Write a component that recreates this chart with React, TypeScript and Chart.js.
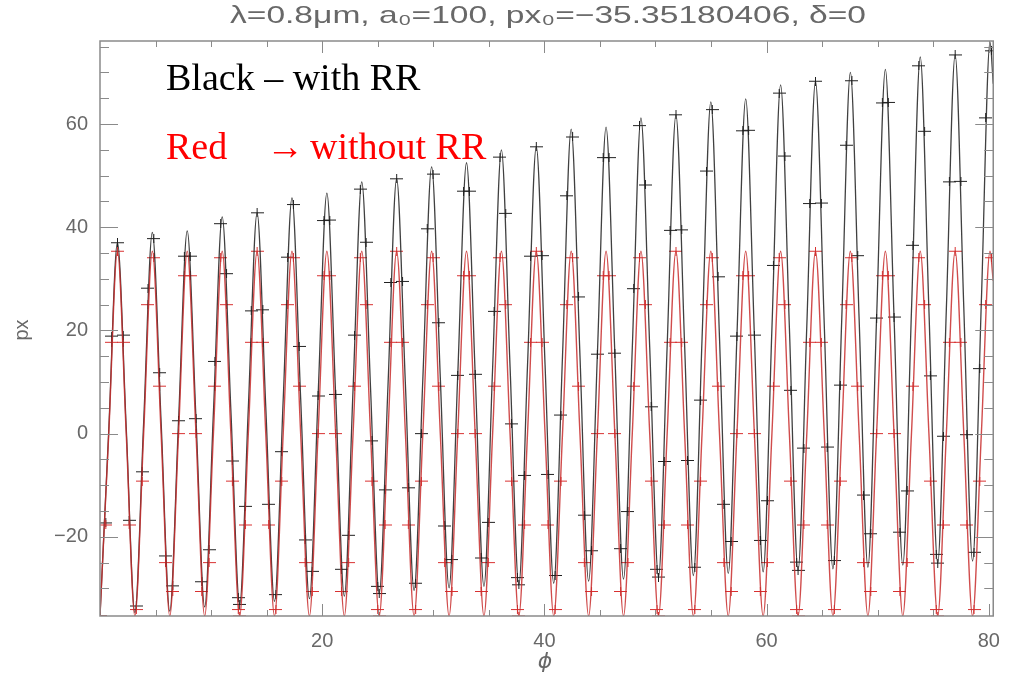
import React, { useEffect, useRef } from 'react';
import { Chart, registerables } from 'chart.js';

Chart.register(...registerables);

// Phase samples (quarter period steps)
const phi = [
  0, 0.79, 1.57, 2.36, 3.14, 3.93, 4.71, 5.5, 6.28, 7.07, 7.85, 8.64,
  9.42, 10.21, 11.0, 11.78, 12.57, 13.35, 14.14, 14.92, 15.71, 16.49, 17.28, 18.06,
  18.85, 19.63, 20.42, 21.21, 21.99, 22.78, 23.56, 24.35, 25.13, 25.92, 26.7, 27.49,
  28.27, 29.06, 29.85, 30.63, 31.42, 32.2, 32.99, 33.77, 34.56, 35.34, 36.13, 36.91,
  37.7, 38.48, 39.27, 40.06, 40.84, 41.63, 42.41, 43.2, 43.98, 44.77, 45.55, 46.34,
  47.12, 47.91, 48.69, 49.48, 50.27, 51.05, 51.84, 52.62, 53.41, 54.19, 54.98, 55.76,
  56.55, 57.33, 58.12, 58.9, 59.69, 60.48, 61.26, 62.05, 62.83, 63.62, 64.4, 65.19,
  65.97, 66.76, 67.54, 68.33, 69.12, 69.9, 70.69, 71.47, 72.26, 73.04, 73.83, 74.61,
  75.4, 76.18, 76.97, 77.75, 78.54, 79.33, 80.11, 80.4,
];

// Black curve: with radiation reaction
const pxWithRR = [
  -35.35, 0.8, 37.0, 1.2, -34.7, 2.2, 39.0, 2.3, -34.4, 2.5, 39.3, 2.9,
  -33.6, 4.2, 42.0, 4.5, -33.1, 4.9, 42.8, 5.2, -32.5, 6.6, 45.7, 6.9,
  -32.0, 7.3, 46.6, 7.6, -31.5, 8.7, 48.8, 8.9, -31.0, 9.2, 49.4, 9.5,
  -30.4, 10.7, 51.7, 10.9, -29.9, 11.3, 52.5, 11.5, -29.6, 12.7, 55.0, 12.9,
  -29.3, 13.2, 55.6, 13.3, -29.0, 15.0, 59.0, 15.2, -28.6, 15.4, 59.4, 15.6,
  -28.2, 16.5, 61.2, 16.7, -27.8, 17.0, 61.8, 17.2, -27.5, 18.4, 64.3, 18.6,
  -27.1, 18.9, 64.9, 19.1, -26.8, 20.4, 67.6, 20.6, -26.5, 20.9, 68.3, 21.1,
  -26.2, 21.9, 70.0, 22.1, -25.9, 22.4, 70.6, 22.6, -25.5, 23.8, 73.0, 24.0,
  -25.1, 24.2, 73.4, 24.4, -24.7, 25.6, 75.9, 67.8,
];

// Red curve: without radiation reaction
const pxWithoutRR = [
  -35.35, 0, 35.35, 0, -35.35, 0, 35.35, 0, -35.35, 0, 35.35, 0,
  -35.35, 0, 35.35, 0, -35.35, 0, 35.35, 0, -35.35, 0, 35.35, 0,
  -35.35, 0, 35.35, 0, -35.35, 0, 35.35, 0, -35.35, 0, 35.35, 0,
  -35.35, 0, 35.35, 0, -35.35, 0, 35.35, 0, -35.35, 0, 35.35, 0,
  -35.35, 0, 35.35, 0, -35.35, 0, 35.35, 0, -35.35, 0, 35.35, 0,
  -35.35, 0, 35.35, 0, -35.35, 0, 35.35, 0, -35.35, 0, 35.35, 0,
  -35.35, 0, 35.35, 0, -35.35, 0, 35.35, 0, -35.35, 0, 35.35, 0,
  -35.35, 0, 35.35, 0, -35.35, 0, 35.35, 0, -35.35, 0, 35.35, 0,
  -35.35, 0, 35.35, 0, -35.35, 0, 35.35, 29.6,
];

// "+" sample markers
const markPhi = [
  0, 0.52, 1.05, 1.57, 2.09, 2.62,
  3.27, 3.8, 4.32, 4.84, 5.37, 5.89,
  6.55, 7.07, 7.59, 8.12, 8.64, 9.16,
  9.82, 10.34, 10.86, 11.39, 11.91, 12.44,
  12.57, 13.09, 13.61, 14.14, 14.66, 15.18,
  15.84, 16.36, 16.89, 17.41, 17.93, 18.46,
  19.11, 19.63, 20.16, 20.68, 21.21, 21.73,
  22.38, 22.91, 23.43, 23.95, 24.48, 25.0,
  25.13, 25.66, 26.18, 26.7, 27.23, 27.75,
  28.41, 28.93, 29.45, 29.98, 30.5, 31.02,
  31.68, 32.2, 32.72, 33.25, 33.77, 34.3,
  34.95, 35.47, 36.0, 36.52, 37.04, 37.57,
  37.7, 38.22, 38.75, 39.27, 39.79, 40.32,
  40.97, 41.49, 42.02, 42.54, 43.07, 43.59,
  44.24, 44.77, 45.29, 45.82, 46.34, 46.86,
  47.52, 48.04, 48.56, 49.09, 49.61, 50.13,
  50.27, 50.79, 51.31, 51.84, 52.36, 52.88,
  53.54, 54.06, 54.59, 55.11, 55.63, 56.16,
  56.81, 57.33, 57.86, 58.38, 58.9, 59.43,
  60.08, 60.61, 61.13, 61.65, 62.18, 62.7,
  62.83, 63.36, 63.88, 64.4, 64.93, 65.45,
  66.1, 66.63, 67.15, 67.68, 68.2, 68.72,
  69.38, 69.9, 70.42, 70.95, 71.47, 72.0,
  72.65, 73.17, 73.7, 74.22, 74.74, 75.27,
  75.4, 75.92, 76.45, 76.97, 77.49, 78.02,
  78.67, 79.19, 79.72, 80.24,
];

const markWithRR = [
  -35.35, -17.3, 18.9, 37.0, 19.1, -16.8,
  -33.4, -7.4, 28.2, 37.8, 11.8, -23.7,
  -29.5, 2.5, 34.4, 34.4, 2.9, -28.7,
  -22.5, 14.0, 40.7, 31.0, -5.3, -31.8,
  -33.1, -14.1, 23.8, 42.8, 24.0, -13.7,
  -31.2, -3.5, 34.2, 44.4, 16.9, -20.6,
  -26.7, 7.3, 41.3, 41.4, 7.6, -26.3,
  -19.7, 19.1, 47.4, 37.1, -1.4, -29.6,
  -31.0, -10.9, 29.3, 49.4, 29.5, -10.5,
  -29.0, 0.0, 39.7, 50.3, 21.5, -17.9,
  -24.4, 11.3, 47.0, 47.0, 11.5, -24.1,
  -17.2, 23.7, 53.6, 42.7, 1.9, -27.9,
  -29.3, -8.1, 34.4, 55.6, 34.5, -7.9,
  -27.5, 3.6, 46.1, 57.5, 26.5, -15.8,
  -22.7, 15.4, 53.5, 53.5, 15.6, -22.3,
  -15.1, 28.1, 59.7, 48.2, 5.2, -26.3,
  -27.8, -5.4, 39.4, 61.8, 39.5, -5.2,
  -25.9, 6.5, 50.9, 62.8, 30.4, -13.7,
  -20.9, 18.9, 58.7, 58.8, 19.1, -20.7,
  -13.0, 32.6, 66.0, 53.8, 8.4, -24.9,
  -26.5, -2.8, 44.6, 68.3, 44.7, -2.6,
  -24.6, 9.4, 55.9, 68.4, 34.5, -11.9,
  -19.4, 22.4, 64.1, 64.2, 22.6, -19.1,
  -11.1, 36.5, 71.3, 58.6, 11.2, -23.4,
  -25.1, -0.5, 48.8, 73.4, 48.9, -0.2,
  -23.0, 12.6, 61.2, 74.2,
];

const markWithoutRR = [
  -35.35, -17.7, 17.7, 35.35, 17.7, -17.7,
  -34.1, -9.2, 25.0, 34.1, 9.2, -25.0,
  -30.6, 0, 30.6, 30.6, 0, -30.6,
  -25.0, 9.2, 34.1, 25.0, -9.2, -34.1,
  -35.35, -17.7, 17.7, 35.35, 17.7, -17.7,
  -34.1, -9.2, 25.0, 34.1, 9.2, -25.0,
  -30.6, 0, 30.6, 30.6, 0, -30.6,
  -25.0, 9.2, 34.1, 25.0, -9.2, -34.1,
  -35.35, -17.7, 17.7, 35.35, 17.7, -17.7,
  -34.1, -9.2, 25.0, 34.1, 9.2, -25.0,
  -30.6, 0, 30.6, 30.6, 0, -30.6,
  -25.0, 9.2, 34.1, 25.0, -9.2, -34.1,
  -35.35, -17.7, 17.7, 35.35, 17.7, -17.7,
  -34.1, -9.2, 25.0, 34.1, 9.2, -25.0,
  -30.6, 0, 30.6, 30.6, 0, -30.6,
  -25.0, 9.2, 34.1, 25.0, -9.2, -34.1,
  -35.35, -17.7, 17.7, 35.35, 17.7, -17.7,
  -34.1, -9.2, 25.0, 34.1, 9.2, -25.0,
  -30.6, 0, 30.6, 30.6, 0, -30.6,
  -25.0, 9.2, 34.1, 25.0, -9.2, -34.1,
  -35.35, -17.7, 17.7, 35.35, 17.7, -17.7,
  -34.1, -9.2, 25.0, 34.1, 9.2, -25.0,
  -30.6, 0, 30.6, 30.6, 0, -30.6,
  -25.0, 9.2, 34.1, 25.0, -9.2, -34.1,
  -35.35, -17.7, 17.7, 35.35, 17.7, -17.7,
  -34.1, -9.2, 25.0, 34.1,
];

const xTickLabels = [20, 40, 60, 80];
const yTickLabels = [-20, 0, 20, 40, 60];
const xMinorTicks = [5, 10, 15, 20, 25, 30, 35, 40, 45, 50, 55, 60, 65, 70, 75, 80];
const yMinorTicks = [-30, -25, -20, -15, -10, -5, 0, 5, 10, 15, 20, 25, 30, 35, 40, 45, 50, 55, 60, 65, 70, 75];

const titleText = 'λ=0.8μm, a₀=100, px₀=−35.35180406, δ=0';
const xTitle = 'ϕ';
const yTitle = 'px';
const noteBlack = 'Black – with RR';
const noteRedA = 'Red';
const noteRedArrow = '→';
const noteRedB = 'without RR';

const AXIS_GRAY = '#8a8a8a';
const TEXT_GRAY = '#686868';

function makePlus(color: string): HTMLCanvasElement {
  const c = document.createElement('canvas');
  c.width = 13;
  c.height = 9;
  const g = c.getContext('2d')!;
  g.strokeStyle = color;
  g.lineWidth = 1;
  g.beginPath();
  g.moveTo(0, 4.5);
  g.lineTo(13, 4.5);
  g.moveTo(6.5, 0);
  g.lineTo(6.5, 9);
  g.stroke();
  return c;
}

const fmt = (v: number) => (v < 0 ? '−' + Math.abs(v) : String(v));

const decorPlugin = {
  id: 'decor',
  afterDatasetsDraw(chart: any) {
    const { ctx, chartArea, scales } = chart;
    const { left, right, top, bottom } = chartArea;
    const xs = scales.x;
    const ys = scales.y;
    ctx.save();
    ctx.strokeStyle = AXIS_GRAY;
    ctx.lineWidth = 1.5;
    ctx.strokeRect(left, top, right - left, bottom - top);
    ctx.lineWidth = 1;
    ctx.beginPath();
    xMinorTicks.forEach((v) => {
      const p = Math.round(xs.getPixelForValue(v)) + 0.5;
      const len = xTickLabels.includes(v) ? 12 : 6;
      ctx.moveTo(p, bottom);
      ctx.lineTo(p, bottom - len);
      ctx.moveTo(p, top);
      ctx.lineTo(p, top + len);
    });
    yMinorTicks.forEach((v) => {
      const p = Math.round(ys.getPixelForValue(v)) + 0.5;
      const len = yTickLabels.includes(v) ? 18 : 9;
      ctx.moveTo(left, p);
      ctx.lineTo(left + len, p);
      ctx.moveTo(right, p);
      ctx.lineTo(right - len, p);
    });
    ctx.stroke();
    ctx.restore();
  },
  afterDraw(chart: any) {
    const { ctx } = chart;
    ctx.save();
    // title, stretched horizontally like the original
    ctx.fillStyle = TEXT_GRAY;
    ctx.font = '24px "Liberation Sans", "DejaVu Sans", sans-serif';
    ctx.textBaseline = 'alphabetic';
    ctx.textAlign = 'center';
    const w = ctx.measureText(titleText).width;
    const targetW = 636;
    ctx.save();
    ctx.translate(548, 23);
    ctx.scale(targetW / w, 1);
    ctx.fillText(titleText, 0, 0);
    ctx.restore();

    // axis titles
    ctx.font = 'italic 22px "DejaVu Sans", sans-serif';
    ctx.textAlign = 'center';
    ctx.textBaseline = 'middle';
    ctx.fillText(xTitle, 545, 662);
    ctx.save();
    ctx.translate(22, 330);
    ctx.rotate(-Math.PI / 2);
    ctx.font = '20px "Liberation Sans", sans-serif';
    ctx.fillText(yTitle, 0, 0);
    ctx.restore();

    // annotations
    ctx.textAlign = 'left';
    ctx.textBaseline = 'alphabetic';
    ctx.font = '38px "Liberation Serif", "DejaVu Serif", serif';
    ctx.fillStyle = '#000000';
    ctx.fillText(noteBlack, 166, 90);
    ctx.fillStyle = '#ff0000';
    ctx.fillText(noteRedA, 166, 159);
    ctx.fillText(noteRedArrow, 266, 159);
    ctx.fillText(noteRedB, 310, 159);
    ctx.restore();
  },
};

export default function App() {
  const ref = useRef<HTMLCanvasElement>(null);

  useEffect(() => {
    const canvas = ref.current;
    if (!canvas) return;
    const blackPlus = makePlus('#202020');
    const redPlus = makePlus('#d83030');

    const lineRed = phi.map((x, i) => ({ x, y: pxWithoutRR[i] }));
    const lineBlack = phi.map((x, i) => ({ x, y: pxWithRR[i] }));
    const markRed = markPhi.map((x, i) => ({ x, y: markWithoutRR[i] }));
    const markBlack = markPhi.map((x, i) => ({ x, y: markWithRR[i] }));

    const tickFont = { family: '"Liberation Sans", "DejaVu Sans", sans-serif', size: 20 };

    const chart = new Chart(canvas, {
      type: 'line',
      data: {
        datasets: [
          {
            label: 'without RR',
            data: lineRed,
            borderColor: 'rgba(200,45,45,0.85)',
            borderWidth: 1.4,
            pointRadius: 0,
            cubicInterpolationMode: 'monotone',
            fill: false,
          },
          {
            label: 'with RR',
            data: lineBlack,
            borderColor: 'rgba(30,30,30,0.85)',
            borderWidth: 1.3,
            pointRadius: 0,
            cubicInterpolationMode: 'monotone',
            fill: false,
          },
          {
            label: 'without RR samples',
            data: markRed,
            showLine: false,
            pointStyle: redPlus as any,
            pointRadius: 5,
            borderWidth: 0,
          },
          {
            label: 'with RR samples',
            data: markBlack,
            showLine: false,
            pointStyle: blackPlus as any,
            pointRadius: 5,
            borderWidth: 0,
          },
        ],
      },
      options: {
        responsive: false,
        maintainAspectRatio: false,
        devicePixelRatio: 1,
        animation: false,
        events: [],
        layout: { padding: { top: 41, right: 16, left: 0, bottom: 0 } },
        plugins: {
          legend: { display: false },
          tooltip: { enabled: false },
          title: { display: false },
        },
        scales: {
          x: {
            type: 'linear',
            min: 0,
            max: 80.4,
            grid: { display: false, drawTicks: false },
            border: { display: false },
            ticks: {
              color: TEXT_GRAY,
              font: tickFont,
              padding: 13,
              maxRotation: 0,
              callback: (v: any) => fmt(Number(v)),
            },
            afterBuildTicks: (s: any) => {
              s.ticks = xTickLabels.map((v) => ({ value: v }));
            },
            afterFit: (s: any) => {
              s.height = 59;
            },
          },
          y: {
            type: 'linear',
            min: -35.35,
            max: 76.1,
            grid: { display: false, drawTicks: false },
            border: { display: false },
            ticks: {
              color: TEXT_GRAY,
              font: tickFont,
              padding: 12,
              callback: (v: any) => fmt(Number(v)),
            },
            afterBuildTicks: (s: any) => {
              s.ticks = yTickLabels.map((v) => ({ value: v }));
            },
            afterFit: (s: any) => {
              s.width = 100;
            },
          },
        },
      },
      plugins: [decorPlugin],
    } as any);

    return () => {
      chart.destroy();
    };
  }, []);

  return (
    <div
      style={{
        position: 'fixed',
        left: 0,
        top: 0,
        width: 1013,
        height: 675,
        background: '#ffffff',
      }}
    >
      <canvas ref={ref} width={1013} height={675} style={{ display: 'block', width: 1013, height: 675 }} />
    </div>
  );
}
